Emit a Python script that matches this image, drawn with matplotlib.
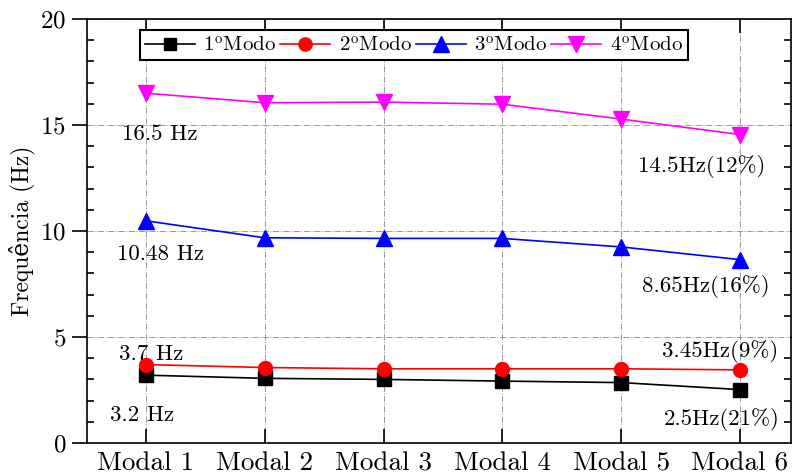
import numpy as np
import matplotlib
matplotlib.use('Agg')
import matplotlib.pyplot as plt

plt.rcParams['font.family'] = ['cmr10', 'DejaVu Serif']
plt.rcParams['mathtext.fontset'] = 'cm'
plt.rcParams['axes.formatter.use_mathtext'] = True

# data
categories = ['Modal 1', 'Modal 2', 'Modal 3', 'Modal 4', 'Modal 5', 'Modal 6']
modo1 = [3.2, 3.05, 3.0, 2.92, 2.85, 2.52]
modo2 = [3.7, 3.56, 3.5, 3.5, 3.5, 3.45]
modo3 = [10.48, 9.68, 9.65, 9.65, 9.25, 8.65]
modo4 = [16.5, 16.05, 16.08, 15.98, 15.28, 14.55]
ordinais = ['1', '2', '3', '4']

# ordinal sign drawn with mathtext (cmr10 has no º)
sup = r'$^{\underline{\mathrm{o}}}$'
try:
    from matplotlib.mathtext import MathTextParser
    MathTextParser('path').parse(sup)
except Exception:
    sup = r'$^{\mathrm{o}}$'
labels = [n + sup + 'Modo' for n in ordinais]

x = np.arange(1, len(categories) + 1)

fig = plt.figure(figsize=(7.92, 4.74), dpi=100)
ax = fig.add_axes([87/792, 31/474, 704/792, 424/474])

ax.plot(x, modo1, '-s', color='black', lw=1.2, ms=9.5, label=labels[0])
ax.plot(x, modo2, '-o', color='red', lw=1.2, ms=10, label=labels[1])
ax.plot(x, modo3, '-^', color='blue', lw=1.2, ms=11.5, label=labels[2])
ax.plot(x, modo4, '-v', color='magenta', lw=1.2, ms=11.5, label=labels[3])

# annotations
ann = [(1.12, 14.55, '16.5 Hz'), (1.12, 8.9, '10.48 Hz'),
       (1.04, 4.2, '3.7 Hz'), (0.97, 1.32, '3.2 Hz'),
       (5.68, 13.05, '14.5Hz(12%)'), (5.71, 7.4, '8.65Hz(16%)'),
       (5.83, 4.3, '3.45Hz(9%)'), (5.85, 1.13, '2.5Hz(21%)')]
for ax_x, ax_y, t in ann:
    ax.text(ax_x, ax_y, t, ha='center', va='center', fontsize=16.5)

ax.set_xlim(0.504, 6.43)
ax.set_ylim(0, 20)
ax.set_xticks(x)
ax.set_xticklabels(categories, fontsize=19.5)
ax.set_yticks([0, 5, 10, 15, 20])
ax.set_yticks(np.arange(0, 21, 1), minor=True)
ax.tick_params(axis='y', which='major', direction='out', length=11, width=1.2, labelsize=18, pad=4)
ax.tick_params(axis='y', which='minor', direction='in', length=5, width=1.2)
ax.tick_params(axis='y', which='both', right=True, labelright=False)
ax.tick_params(axis='x', which='major', direction='in', length=10, width=1.2, top=True, pad=6)
ax.set_ylabel('Frequência (Hz)', fontsize=17, labelpad=4)

ax.grid(True, which='major', color='gray', linestyle='-.', linewidth=0.7, alpha=0.8)
for s in ax.spines.values():
    s.set_linewidth(1.2)

leg = ax.legend(loc='upper left', bbox_to_anchor=(0.075, 0.974), ncol=4, fontsize=15,
                frameon=True, fancybox=False, edgecolor='black', framealpha=1,
                handlelength=2.4, handletextpad=0.4, columnspacing=0.2,
                borderpad=0.25, borderaxespad=0, markerscale=0.95)
leg.get_frame().set_linewidth(1.5)

fig.savefig('out.png', dpi=100)
